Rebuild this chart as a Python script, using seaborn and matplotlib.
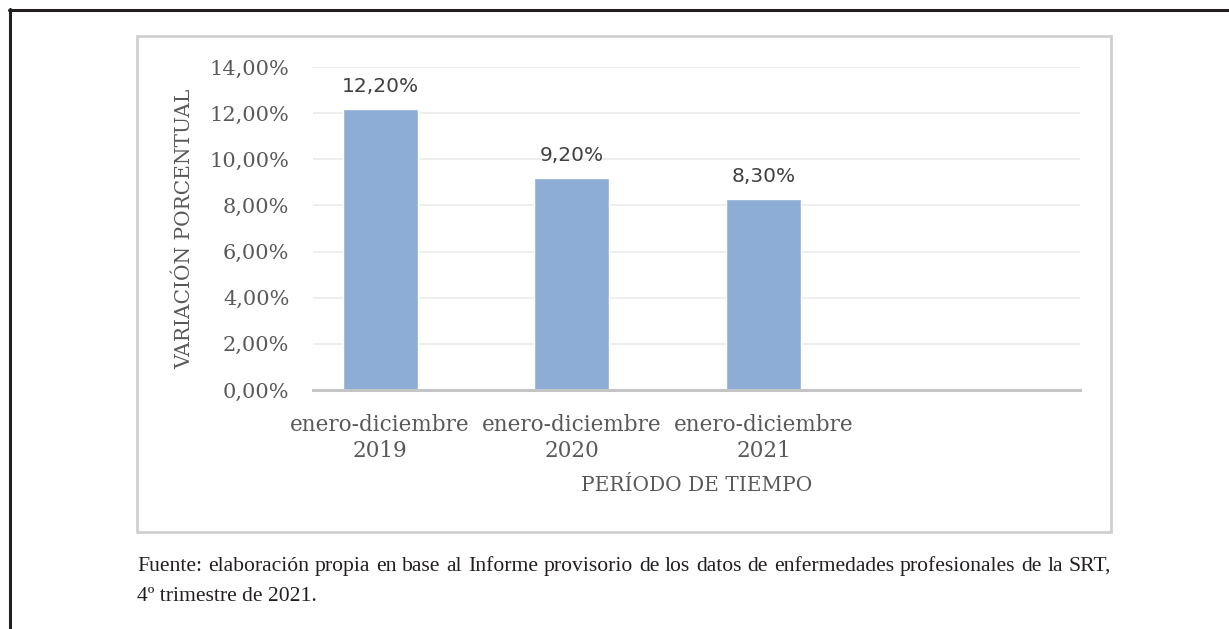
import matplotlib
matplotlib.use("Agg")
import matplotlib.pyplot as plt
import seaborn as sns
import pandas as pd
from matplotlib.patches import Rectangle
from matplotlib.lines import Line2D

categories = ["enero-diciembre\n2019", "enero-diciembre\n2020", "enero-diciembre\n2021"]
values = [12.2, 9.2, 8.3]
yticks = [0, 2, 4, 6, 8, 10, 12, 14]
ytick_labels = ["0,00%", "2,00%", "4,00%", "6,00%", "8,00%", "10,00%", "12,00%", "14,00%"]
value_labels = ["12,20%", "9,20%", "8,30%"]
y_label = "VARIACIÓN PORCENTUAL"
x_label = "PERÍODO DE TIEMPO"
caption1 = "Fuente: elaboración propia en base al Informe provisorio de los datos de enfermedades profesionales de la SRT,"
caption2 = "4º trimestre de 2021."

sns.set_theme(style="white")
plt.rcParams['font.family'] = ['DejaVu Serif']

W, H = 1229, 629
fig = plt.figure(figsize=(W / 100, H / 100), dpi=100)
fig.patch.set_facecolor("white")

ax = fig.add_axes([313 / W, 1 - 390 / H, 767 / W, 323 / H])
df = pd.DataFrame({"cat": categories, "val": values})
sns.barplot(data=df, x="cat", y="val", color="#8DADD6", saturation=1, width=0.39, ax=ax)

ax.set_ylim(0, 14)
ax.set_xlim(-0.35, 3.65)
ax.set_yticks(yticks)
ax.set_yticklabels(ytick_labels)
ax.yaxis.grid(True, color="#EDEDED", linewidth=1.3)
ax.set_axisbelow(True)
for s in ["top", "right", "left"]:
    ax.spines[s].set_visible(False)
ax.spines["bottom"].set_color("#C4C4C4")
ax.spines["bottom"].set_linewidth(2.2)
ax.tick_params(axis="both", length=0, colors="#595959")
ax.tick_params(axis="y", pad=17, labelsize=15)
ax.tick_params(axis="x", pad=17, labelsize=15.5)
for lab in ax.get_xticklabels():
    lab.set_linespacing(1.25)

ax.set_ylabel(y_label, color="#595959", fontsize=14.5, labelpad=11)
ax.set_xlabel(x_label, color="#595959", fontsize=14.5, labelpad=10)

for i, (v, t) in enumerate(zip(values, value_labels)):
    ax.annotate(t, (i, v), xytext=(0, 9), textcoords="offset points",
                ha="center", va="bottom", fontsize=14.5, color="#404040",
                family="DejaVu Sans")

# inner chart box
fig.patches.append(Rectangle((137 / W, 1 - 532 / H), (1111 - 137) / W, (532 - 36) / H,
                             transform=fig.transFigure, fill=False,
                             edgecolor="#D0D0D0", linewidth=2))
# outer frame lines
fig.lines.append(Line2D([9 / W, 1.0], [1 - 10 / H, 1 - 10 / H], transform=fig.transFigure,
                        color="#231F20", linewidth=2.2))
fig.lines.append(Line2D([9.5 / W, 9.5 / W], [0, 1 - 9 / H], transform=fig.transFigure,
                        color="#231F20", linewidth=2.2))

# caption: first line justified between the box edges
cap_kw = dict(fontsize=15.6, family="Liberation Serif", color="#231F20", ha="left", va="baseline")
renderer = fig.canvas.get_renderer()
words = caption1.split(" ")
wtexts = [fig.text(0, 1 - 571 / H, w, **cap_kw) for w in words]
widths = [t.get_window_extent(renderer).width for t in wtexts]
left_px, right_px = 137, 1111
gap = (right_px - left_px - sum(widths)) / (len(words) - 1)
xpos = left_px
for t, w in zip(wtexts, widths):
    t.set_x(xpos / W)
    xpos += w + gap

fig.text(137 / W, 1 - 601 / H, caption2, **cap_kw)

fig.savefig("out.png", dpi=100)
